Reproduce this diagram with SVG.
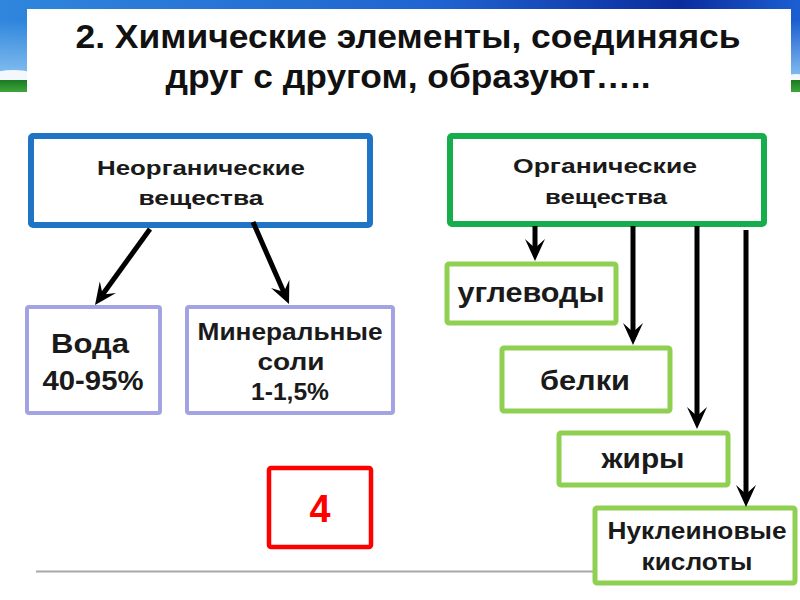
<svg xmlns="http://www.w3.org/2000/svg" width="800" height="600" viewBox="0 0 800 600">
<style>
  text { font-family: "Liberation Sans", Arial, sans-serif; font-weight: bold; fill: #1a1a1a; text-anchor: middle; }
  .title { font-size: 34px; fill: #111; }
  .box { fill: #fff; }
  .inorg { stroke: #1f74c6; stroke-width: 6; }
  .org { stroke: #16ad4c; stroke-width: 6; }
  .lav { stroke: #a3a3e3; stroke-width: 4; }
  .lg { stroke: #8fd052; stroke-width: 5; }
  .red { stroke: #ff0000; stroke-width: 4.5; }
  .conn line { stroke: #000; stroke-width: 5; fill: none; marker-end: url(#ah); }
</style>
<defs>
  <linearGradient id="sky" x1="0" y1="0" x2="1" y2="0">
    <stop offset="0" stop-color="#2f86dc"/>
    <stop offset="0.55" stop-color="#1f63d0"/>
    <stop offset="0.85" stop-color="#0b2c9e"/>
    <stop offset="1" stop-color="#1c5fd2"/>
  </linearGradient>
  <linearGradient id="skyV" x1="0" y1="0" x2="0" y2="1">
    <stop offset="0" stop-color="#8cc4f2" stop-opacity="0"/>
    <stop offset="1" stop-color="#8cc4f2" stop-opacity="0.9"/>
  </linearGradient>
  <linearGradient id="grass" x1="0" y1="0" x2="0" y2="1">
    <stop offset="0" stop-color="#1c7a22"/>
    <stop offset="1" stop-color="#3da63a"/>
  </linearGradient>
  <marker id="ah" viewBox="0 0 22 20" markerWidth="22" markerHeight="20" refX="14" refY="10" orient="auto" markerUnits="userSpaceOnUse">
    <path d="M0,0 L22,10 L0,20 L9,10 z" fill="#000"/>
  </marker>
</defs>

<g id="header-bg">
  <rect x="0" y="0" width="800" height="92" fill="url(#sky)"/>
  <rect x="0" y="20" width="800" height="55" fill="url(#skyV)"/>
  <ellipse cx="14" cy="76" rx="22" ry="6" fill="#f4f8fc"/>
  <ellipse cx="796" cy="80" rx="14" ry="6" fill="#f4f8fc"/>
  <rect x="0" y="80" width="800" height="12" fill="url(#grass)"/>
  <rect x="27" y="9" width="764" height="95" fill="#fff"/>
</g>

<g id="title">
  <text class="title" x="408" y="48" textLength="665" lengthAdjust="spacingAndGlyphs">2. Химические элементы, соединяясь</text>
  <text class="title" x="408" y="88" textLength="485" lengthAdjust="spacingAndGlyphs">друг с другом, образуют…..</text>
</g>

<line x1="36" y1="571.5" x2="593" y2="571.5" stroke="#a8a8a8" stroke-width="2"/>

<g id="inorganic">
  <rect class="box inorg" x="31" y="136" width="339" height="89" rx="2"/>
  <text x="201" y="175" font-size="21" textLength="208" lengthAdjust="spacingAndGlyphs">Неорганические</text>
  <text x="201" y="205" font-size="21" textLength="125" lengthAdjust="spacingAndGlyphs">вещества</text>
</g>

<g id="organic">
  <rect class="box org" x="450" y="136" width="314" height="88" rx="2"/>
  <text x="605" y="173" font-size="21" textLength="184" lengthAdjust="spacingAndGlyphs">Органические</text>
  <text x="606" y="204" font-size="21" textLength="122" lengthAdjust="spacingAndGlyphs">вещества</text>
</g>

<g id="water">
  <rect class="box lav" x="27" y="307" width="133" height="106" rx="2"/>
  <text x="90" y="353" font-size="28" textLength="78" lengthAdjust="spacingAndGlyphs">Вода</text>
  <text x="93" y="390" font-size="28" textLength="101" lengthAdjust="spacingAndGlyphs">40-95%</text>
</g>

<g id="minerals">
  <rect class="box lav" x="187" y="307" width="206" height="106" rx="2"/>
  <text x="290" y="340" font-size="23" textLength="185" lengthAdjust="spacingAndGlyphs">Минеральные</text>
  <text x="291" y="370" font-size="23" textLength="67" lengthAdjust="spacingAndGlyphs">соли</text>
  <text x="290" y="400" font-size="23" textLength="78" lengthAdjust="spacingAndGlyphs">1-1,5%</text>
</g>

<g id="carbs">
  <rect class="box lg" x="447" y="264" width="169" height="59" rx="2"/>
  <text x="531" y="302" font-size="28" textLength="147" lengthAdjust="spacingAndGlyphs">углеводы</text>
</g>

<g id="proteins">
  <rect class="box lg" x="502" y="348" width="168" height="63" rx="2"/>
  <text x="585" y="390" font-size="27" textLength="90" lengthAdjust="spacingAndGlyphs">белки</text>
</g>

<g id="fats">
  <rect class="box lg" x="559" y="433" width="169" height="52" rx="2"/>
  <text x="643" y="468" font-size="27" textLength="83" lengthAdjust="spacingAndGlyphs">жиры</text>
</g>

<g id="nucleic">
  <rect class="box lg" x="595" y="508" width="200" height="75" rx="2"/>
  <text x="697" y="539" font-size="23" textLength="179" lengthAdjust="spacingAndGlyphs">Нуклеиновые</text>
  <text x="697" y="570" font-size="23" textLength="111" lengthAdjust="spacingAndGlyphs">кислоты</text>
</g>

<g id="page-number">
  <rect class="box red" x="269" y="468" width="102" height="79" rx="2"/>
  <text x="320" y="522" font-size="38" style="fill:#ff0000" textLength="21" lengthAdjust="spacingAndGlyphs">4</text>
</g>

<g id="connectors" class="conn">
  <line x1="150" y1="229" x2="99.7" y2="298.5"/>
  <line x1="253" y1="222" x2="285.8" y2="296.7"/>
  <line x1="535" y1="226" x2="535" y2="253"/>
  <line x1="633" y1="226" x2="633" y2="337"/>
  <line x1="697" y1="226" x2="697" y2="421"/>
  <line x1="746" y1="230" x2="746" y2="499"/>
</g>
</svg>
